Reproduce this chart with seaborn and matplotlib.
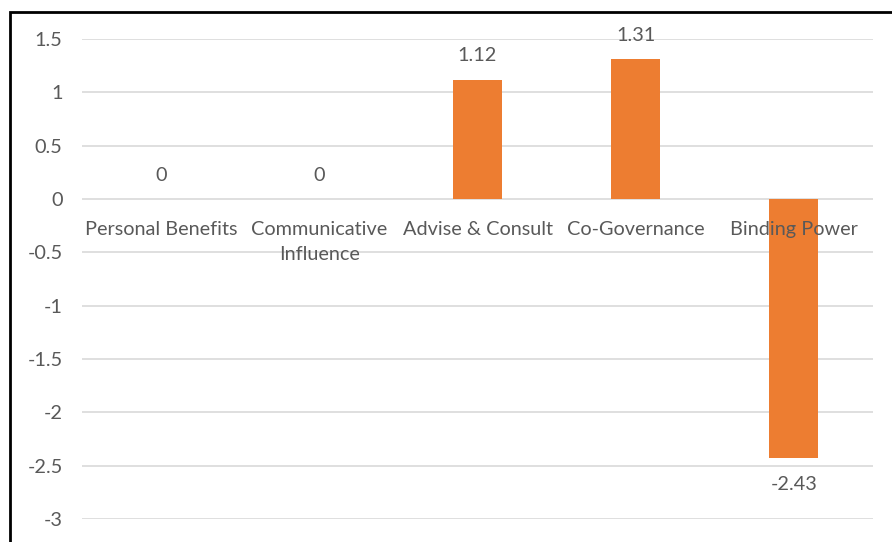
import matplotlib
matplotlib.use("Agg")
import matplotlib.pyplot as plt
import matplotlib.patches as mpatches
import seaborn as sns
import pandas as pd

categories = ["Personal Benefits", "Communicative\nInfluence", "Advise & Consult",
              "Co-Governance", "Binding Power"]
values = [0, 0, 1.12, 1.31, -2.43]
value_labels = ["0", "0", "1.12", "1.31", "-2.43"]
y_ticks = [1.5, 1, 0.5, 0, -0.5, -1, -1.5, -2, -2.5, -3]
y_tick_labels = ["1.5", "1", "0.5", "0", "-0.5", "-1", "-1.5", "-2", "-2.5", "-3"]

sns.set_theme(style="white")
plt.rcParams["font.family"] = ["Lato", "DejaVu Sans"]

text_color = "#595959"
bar_color = "#ED7D31"
grid_color = "#D9D9D9"
fs = 14.3

df = pd.DataFrame({"category": categories, "value": values})

fig = plt.figure(figsize=(8.92, 5.42), dpi=100)
ax = fig.add_axes([82 / 892, 23 / 542, 791 / 892, 480 / 542])

sns.barplot(data=df, x="category", y="value", color=bar_color, width=0.31,
            saturation=1, linewidth=0, ax=ax, zorder=3)

ax.set_ylim(-3, 1.5)
ax.set_xlim(-0.5, len(categories) - 0.5)
ax.set_yticks(y_ticks)
ax.set_yticklabels(y_tick_labels)
ax.set_xticks([])
ax.set_xlabel("")
ax.set_ylabel("")

for s in ["top", "right", "left", "bottom"]:
    ax.spines[s].set_visible(False)

ax.yaxis.grid(True, color=grid_color, linewidth=1.2, zorder=0)
ax.set_axisbelow(True)
ax.tick_params(axis="y", length=0, pad=14, labelsize=fs, labelcolor=text_color)

# category names sit just under the zero line, drawn over the bars
for i, name in enumerate(categories):
    ax.annotate(name, (i, 0), xytext=(0, -16), textcoords="offset points",
                ha="center", va="top", fontsize=fs, color=text_color,
                linespacing=1.55, zorder=6, annotation_clip=False)

# value labels above positive bars, below negative bars
for i, (v, t) in enumerate(zip(values, value_labels)):
    if v >= 0:
        ax.annotate(t, (i, v), xytext=(0, 11), textcoords="offset points",
                    ha="center", va="bottom", fontsize=fs, color=text_color, zorder=6)
    else:
        ax.annotate(t, (i, v), xytext=(0, -13), textcoords="offset points",
                    ha="center", va="top", fontsize=fs, color=text_color, zorder=6)

# chart frame
frame = mpatches.Rectangle((10 / 892, -0.1), 1.2, (542 - 12) / 542 + 0.1,
                           transform=fig.transFigure, fill=False,
                           edgecolor="black", linewidth=2, clip_on=False)
fig.patches.append(frame)

fig.savefig("out.png", dpi=100, facecolor="white")
